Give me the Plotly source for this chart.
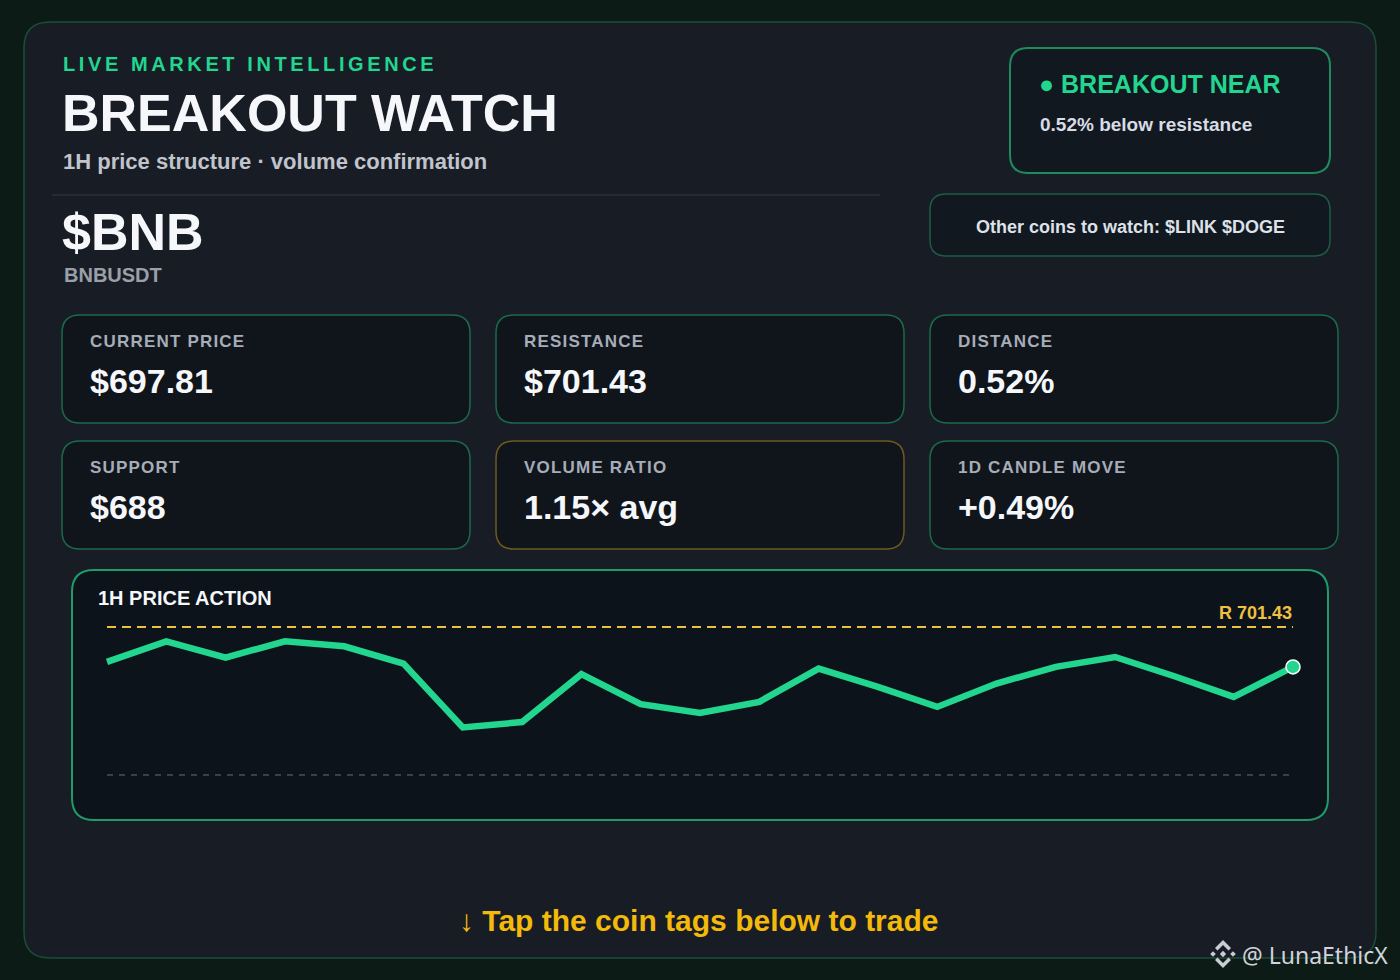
import plotly.graph_objects as go

W, H = 1400, 980

# ---------------- data ----------------
hours = list(range(21))
prices = [698.26, 700.13, 698.66, 700.13, 699.68, 698.11, 692.32, 692.80, 697.15, 694.43,
          693.64, 694.64, 697.66, 696.00, 694.18, 696.30, 697.81, 698.71, 696.96, 695.09, 697.81]
resistance = 701.43
support = 688.0
card_labels = ["CURRENT PRICE", "RESISTANCE", "DISTANCE", "SUPPORT", "VOLUME RATIO", "1D CANDLE MOVE"]
card_values = ["$697.81", "$701.43", "0.52%", "$688", "1.15× avg", "+0.49%"]
symbol = "$BNB"
pair = "BNBUSDT"
status = "BREAKOUT NEAR"
status_note = "0.52% below resistance"
watch_coins = ["$LINK", "$DOGE"]

# ---------------- helpers ----------------
def X(px):
    return px / W

def Y(py):
    return 1 - py / H

def rr(x0, y0, x1, y1, r):
    p = (f"M {X(x0+r)},{Y(y0)} L {X(x1-r)},{Y(y0)} Q {X(x1)},{Y(y0)} {X(x1)},{Y(y0+r)} "
         f"L {X(x1)},{Y(y1-r)} Q {X(x1)},{Y(y1)} {X(x1-r)},{Y(y1)} "
         f"L {X(x0+r)},{Y(y1)} Q {X(x0)},{Y(y1)} {X(x0)},{Y(y1-r)} "
         f"L {X(x0)},{Y(y0+r)} Q {X(x0)},{Y(y0)} {X(x0+r)},{Y(y0)} Z")
    return p

def box(x0, y0, x1, y1, r, fill, line, lw):
    return dict(type="path", xref="paper", yref="paper", path=rr(x0, y0, x1, y1, r),
                fillcolor=fill, line=dict(color=line, width=lw), layer="below")

def poly(pts, color):
    p = "M " + " L ".join(f"{X(a)},{Y(b)}" for a, b in pts) + " Z"
    return dict(type="path", xref="paper", yref="paper", path=p, fillcolor=color,
                line=dict(width=0), layer="above")

def diamond(cx, cy, h, color):
    return poly([(cx, cy - h), (cx + h, cy), (cx, cy + h), (cx - h, cy)], color)

FONT = "Liberation Sans, Arial, sans-serif"

def txt(x, y, text, size, color, anchor="left", bold=True, family=FONT):
    return dict(x=X(x), y=Y(y), xref="paper", yref="paper", text=(f"<b>{text}</b>" if bold else text),
                showarrow=False, xanchor=anchor, yanchor="middle",
                font=dict(size=size, color=color, family=family))

shapes = []
ann = []

# main panel
shapes.append(box(24, 22, 1376, 958, 26, "#181c24", "#1b4d39", 1.5))
# divider
shapes.append(dict(type="line", xref="paper", yref="paper", x0=X(52), x1=X(880), y0=Y(195), y1=Y(195),
                   line=dict(color="#2b3139", width=1.5), layer="below"))
# badge
shapes.append(box(1010, 48, 1330, 173, 18, "#121820", "#1f8a5e", 2))
shapes.append(box(930, 194, 1330, 256, 16, "#121820", "#1b5e43", 1.5))

# cards
cols = [62, 496, 930]
rows = [315, 441]
for i, (lab, val) in enumerate(zip(card_labels, card_values)):
    cx = cols[i % 3]
    cy = rows[i // 3]
    border = "#6e5a1f" if lab == "VOLUME RATIO" else "#1b6a4b"
    shapes.append(box(cx, cy, cx + 408, cy + 108, 18, "#10151c", border, 1.5))
    ann.append(txt(cx + 26, cy + 27, f'<span style="letter-spacing:1.2px">{lab}</span>', 17, "#a7adb8"))
    ann.append(txt(cx + 26, cy + 66, val, 34, "#f5f7fa"))

# chart panel
shapes.append(box(72, 570, 1328, 820, 22, "#0d131b", "#1f9a68", 2))

# header texts
ann.append(txt(61, 64, '<span style="letter-spacing:3.6px">LIVE MARKET INTELLIGENCE</span>', 20, "#22d68f"))
ann.append(txt(60, 113, "BREAKOUT WATCH", 52, "#f5f7fa"))
ann.append(txt(61, 162, "1H price structure · volume confirmation", 22, "#c0c4cc"))
ann.append(txt(60, 232, symbol, 52, "#f5f7fa"))
ann.append(txt(62, 275, pair, 20, "#9aa0aa"))

ann.append(txt(1037, 84, f'<span style="font-size:25px">●</span> {status}', 25, "#22d68f"))
ann.append(txt(1038, 125, status_note, 19, "#d8dce4"))
ann.append(txt(1130, 227, "Other coins to watch: " + " ".join(watch_coins), 18, "#dde1e8", anchor="center"))

ann.append(txt(96, 598, "1H PRICE ACTION", 20, "#f5f7fa"))
ann.append(txt(1294, 613, f"R {resistance:.2f}", 18, "#f0c040", anchor="right"))

ann.append(txt(699, 920, "↓ Tap the coin tags below to trade", 30, "#f3b90b", anchor="center"))
ann.append(txt(1240, 955, "@ LunaEthicX", 23, "#d0d4da", bold=False, family="Noto Sans, sans-serif"))

# binance-like logo
logo_c = "#c8ccd4"
lx, ly = 1223, 954
shapes.append(diamond(lx, ly, 3.2, logo_c))
shapes.append(diamond(lx - 10, ly, 2.8, logo_c))
shapes.append(diamond(lx + 10, ly, 2.8, logo_c))
shapes.append(poly([(lx, ly - 14), (lx + 8, ly - 6), (lx + 5.5, ly - 3.5), (lx, ly - 9),
                    (lx - 5.5, ly - 3.5), (lx - 8, ly - 6)], logo_c))
shapes.append(poly([(lx, ly + 14), (lx + 8, ly + 6), (lx + 5.5, ly + 3.5), (lx, ly + 9),
                    (lx - 5.5, ly + 3.5), (lx - 8, ly + 6)], logo_c))

# ---------------- chart geometry ----------------
x_left_px, x_right_px = 107, 1293
y_res_px, y_sup_px = 627, 775
dom_x = (80, 1320)
dom_y = (590, 810)
step = (x_right_px - x_left_px) / (len(hours) - 1)
xr = [hours[0] + (dom_x[0] - x_left_px) / step, hours[-1] + (dom_x[1] - x_right_px) / step]
ppd = (y_sup_px - y_res_px) / (resistance - support)
yr = [support - (dom_y[1] - y_sup_px) / ppd, resistance + (y_res_px - dom_y[0]) / ppd]

fig = go.Figure()
fig.add_trace(go.Scatter(x=[hours[0], hours[-1]], y=[support, support], mode="lines",
                         line=dict(color="#4a5058", width=1.5, dash="6px,6px"), hoverinfo="skip"))
fig.add_trace(go.Scatter(x=[hours[0], hours[-1]], y=[resistance, resistance], mode="lines",
                         line=dict(color="#f0c040", width=2, dash="9px,6px"), hoverinfo="skip"))
fig.add_trace(go.Scatter(x=hours, y=prices, mode="lines",
                         line=dict(color="#22d68f", width=6.5, shape="linear"), hoverinfo="skip"))
fig.add_trace(go.Scatter(x=[hours[-1]], y=[prices[-1]], mode="markers",
                         marker=dict(color="#22d68f", size=14, line=dict(color="#ffffff", width=1.5)),
                         hoverinfo="skip", cliponaxis=False))

fig.update_layout(
    width=W, height=H,
    margin=dict(l=0, r=0, t=0, b=0),
    paper_bgcolor="#0c1b15",
    plot_bgcolor="rgba(0,0,0,0)",
    showlegend=False,
    shapes=shapes,
    annotations=ann,
    xaxis=dict(domain=[X(dom_x[0]), X(dom_x[1])], range=xr, visible=False, fixedrange=True),
    yaxis=dict(domain=[Y(dom_y[1]), Y(dom_y[0])], range=yr, visible=False, fixedrange=True),
)

fig.write_html("out.html", config={"displayModeBar": False},
               post_script="document.body.style.margin='0';document.body.style.overflow='hidden';")
